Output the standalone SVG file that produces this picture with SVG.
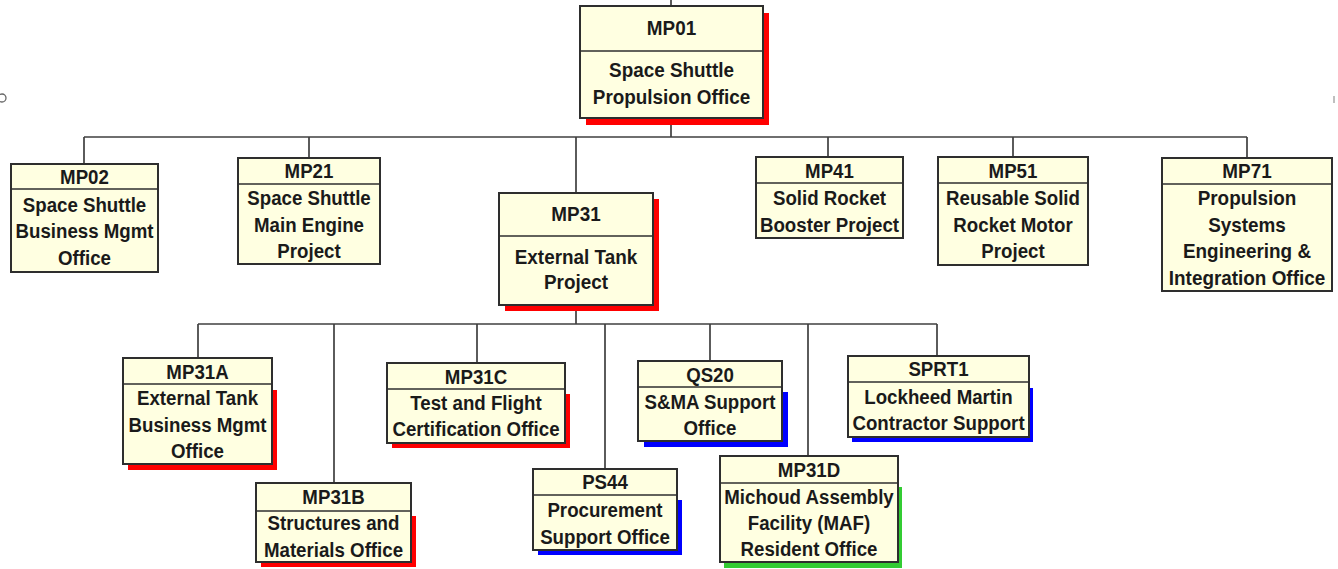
<svg xmlns="http://www.w3.org/2000/svg" width="1338" height="569" viewBox="0 0 1338 569">
<style>
.box{fill:#FFFFE1;stroke:#2e2e2e;stroke-width:2}
.div{stroke:#2e2e2e;stroke-width:1.7}
.conn{stroke:#404040;stroke-width:1.7;fill:none}
.sr{fill:#FF0000}
.sb{fill:#0000FF}
.sg{fill:#33CC33}
.t{font-family:"Liberation Sans",Arial,sans-serif;font-weight:bold;font-size:21px;fill:#1a1a1a;text-anchor:middle}
</style>
<rect x="0" y="0" width="1338" height="569" fill="#FFFFFF"/>
<circle cx="2" cy="98" r="4" fill="none" stroke="#666" stroke-width="1.3"/>
<line x1="1334" y1="96" x2="1334" y2="103" stroke="#aaa" stroke-width="1.5"/>
<g id="connectors">
<path class="conn" d="M671 0V6M671 118V137M84 137H1247M84 137V164M309 137V158M576 137V193M828 137V157M1013 137V157M1247 137V158"/>
<path class="conn" d="M576 305V324M198 324H937M198 324V358M334 324V483M477 324V363M605 324V469M710 324V361M808 324V456M937 324V356"/>
</g>
<g id="MP01">
<rect class="sr" x="586" y="13" width="183" height="112"/>
<rect class="box" x="580" y="6" width="183" height="112"/>
<line class="div" x1="580" y1="51" x2="763" y2="51"/>
<g transform="translate(671.5 0) scale(0.9 1)"><text class="t" x="0" y="35">MP01</text><text class="t" x="0" y="77">Space Shuttle</text><text class="t" x="0" y="104">Propulsion Office</text></g>
</g>
<g id="MP02">
<rect class="box" x="11" y="164" width="147" height="108"/>
<line class="div" x1="11" y1="189" x2="158" y2="189"/>
<g transform="translate(84.5 0) scale(0.89 1)"><text class="t" x="0" y="184">MP02</text><text class="t" x="0" y="212">Space Shuttle</text><text class="t" x="0" y="238.5">Business Mgmt</text><text class="t" x="0" y="265">Office</text></g>
</g>
<g id="MP21">
<rect class="box" x="238" y="158" width="142" height="106"/>
<line class="div" x1="238" y1="184" x2="380" y2="184"/>
<g transform="translate(309 0) scale(0.89 1)"><text class="t" x="0" y="178">MP21</text><text class="t" x="0" y="205">Space Shuttle</text><text class="t" x="0" y="232">Main Engine</text><text class="t" x="0" y="258.5">Project</text></g>
</g>
<g id="MP31">
<rect class="sr" x="505" y="199" width="154" height="112"/>
<rect class="box" x="499" y="193" width="154" height="112"/>
<line class="div" x1="499" y1="236" x2="653" y2="236"/>
<g transform="translate(576 0) scale(0.9 1)"><text class="t" x="0" y="221">MP31</text><text class="t" x="0" y="264">External Tank</text><text class="t" x="0" y="289">Project</text></g>
</g>
<g id="MP41">
<rect class="box" x="756" y="157" width="147" height="81"/>
<line class="div" x1="756" y1="183" x2="903" y2="183"/>
<g transform="translate(829.5 0) scale(0.89 1)"><text class="t" x="0" y="178">MP41</text><text class="t" x="0" y="205">Solid Rocket</text><text class="t" x="0" y="232">Booster Project</text></g>
</g>
<g id="MP51">
<rect class="box" x="938" y="157" width="150" height="108"/>
<line class="div" x1="938" y1="183" x2="1088" y2="183"/>
<g transform="translate(1013 0) scale(0.89 1)"><text class="t" x="0" y="178">MP51</text><text class="t" x="0" y="205">Reusable Solid</text><text class="t" x="0" y="232">Rocket Motor</text><text class="t" x="0" y="258">Project</text></g>
</g>
<g id="MP71">
<rect class="box" x="1162" y="158" width="170" height="133"/>
<line class="div" x1="1162" y1="184" x2="1332" y2="184"/>
<g transform="translate(1247 0) scale(0.9 1)"><text class="t" x="0" y="178">MP71</text><text class="t" x="0" y="205">Propulsion</text><text class="t" x="0" y="232">Systems</text><text class="t" x="0" y="258">Engineering &amp;</text><text class="t" x="0" y="285">Integration Office</text></g>
</g>
<g id="MP31A">
<rect class="sr" x="128" y="390" width="149" height="80"/>
<rect class="box" x="123" y="358" width="149" height="106"/>
<line class="div" x1="123" y1="384" x2="272" y2="384"/>
<g transform="translate(197.5 0) scale(0.89 1)"><text class="t" x="0" y="379">MP31A</text><text class="t" x="0" y="405">External Tank</text><text class="t" x="0" y="432">Business Mgmt</text><text class="t" x="0" y="458">Office</text></g>
</g>
<g id="MP31B">
<rect class="sr" x="261" y="516" width="155" height="51"/>
<rect class="box" x="256" y="483" width="155" height="79"/>
<line class="div" x1="256" y1="511" x2="411" y2="511"/>
<g transform="translate(333.5 0) scale(0.89 1)"><text class="t" x="0" y="504">MP31B</text><text class="t" x="0" y="530">Structures and</text><text class="t" x="0" y="557">Materials Office</text></g>
</g>
<g id="MP31C">
<rect class="sr" x="392" y="394" width="178" height="54"/>
<rect class="box" x="387" y="363" width="178" height="80"/>
<line class="div" x1="387" y1="389" x2="565" y2="389"/>
<g transform="translate(476 0) scale(0.89 1)"><text class="t" x="0" y="384">MP31C</text><text class="t" x="0" y="410">Test and Flight</text><text class="t" x="0" y="436">Certification Office</text></g>
</g>
<g id="PS44">
<rect class="sb" x="538" y="500" width="144" height="55"/>
<rect class="box" x="533" y="469" width="144" height="81"/>
<line class="div" x1="533" y1="495" x2="677" y2="495"/>
<g transform="translate(605 0) scale(0.89 1)"><text class="t" x="0" y="489">PS44</text><text class="t" x="0" y="517">Procurement</text><text class="t" x="0" y="544">Support Office</text></g>
</g>
<g id="QS20">
<rect class="sb" x="644" y="392" width="144" height="55"/>
<rect class="box" x="638" y="361" width="144" height="80"/>
<line class="div" x1="638" y1="387" x2="782" y2="387"/>
<g transform="translate(710 0) scale(0.89 1)"><text class="t" x="0" y="382">QS20</text><text class="t" x="0" y="409">S&amp;MA Support</text><text class="t" x="0" y="435">Office</text></g>
</g>
<g id="MP31D">
<rect class="sg" x="724" y="487" width="178" height="81"/>
<rect class="box" x="720" y="456" width="178" height="106"/>
<line class="div" x1="720" y1="483" x2="898" y2="483"/>
<g transform="translate(809 0) scale(0.89 1)"><text class="t" x="0" y="477">MP31D</text><text class="t" x="0" y="504">Michoud Assembly</text><text class="t" x="0" y="530">Facility (MAF)</text><text class="t" x="0" y="556">Resident Office</text></g>
</g>
<g id="SPRT1">
<rect class="sb" x="852" y="388" width="181" height="54"/>
<rect class="box" x="848" y="356" width="181" height="81"/>
<line class="div" x1="848" y1="382" x2="1029" y2="382"/>
<g transform="translate(938.5 0) scale(0.89 1)"><text class="t" x="0" y="376">SPRT1</text><text class="t" x="0" y="404">Lockheed Martin</text><text class="t" x="0" y="430">Contractor Support</text></g>
</g>
</svg>
